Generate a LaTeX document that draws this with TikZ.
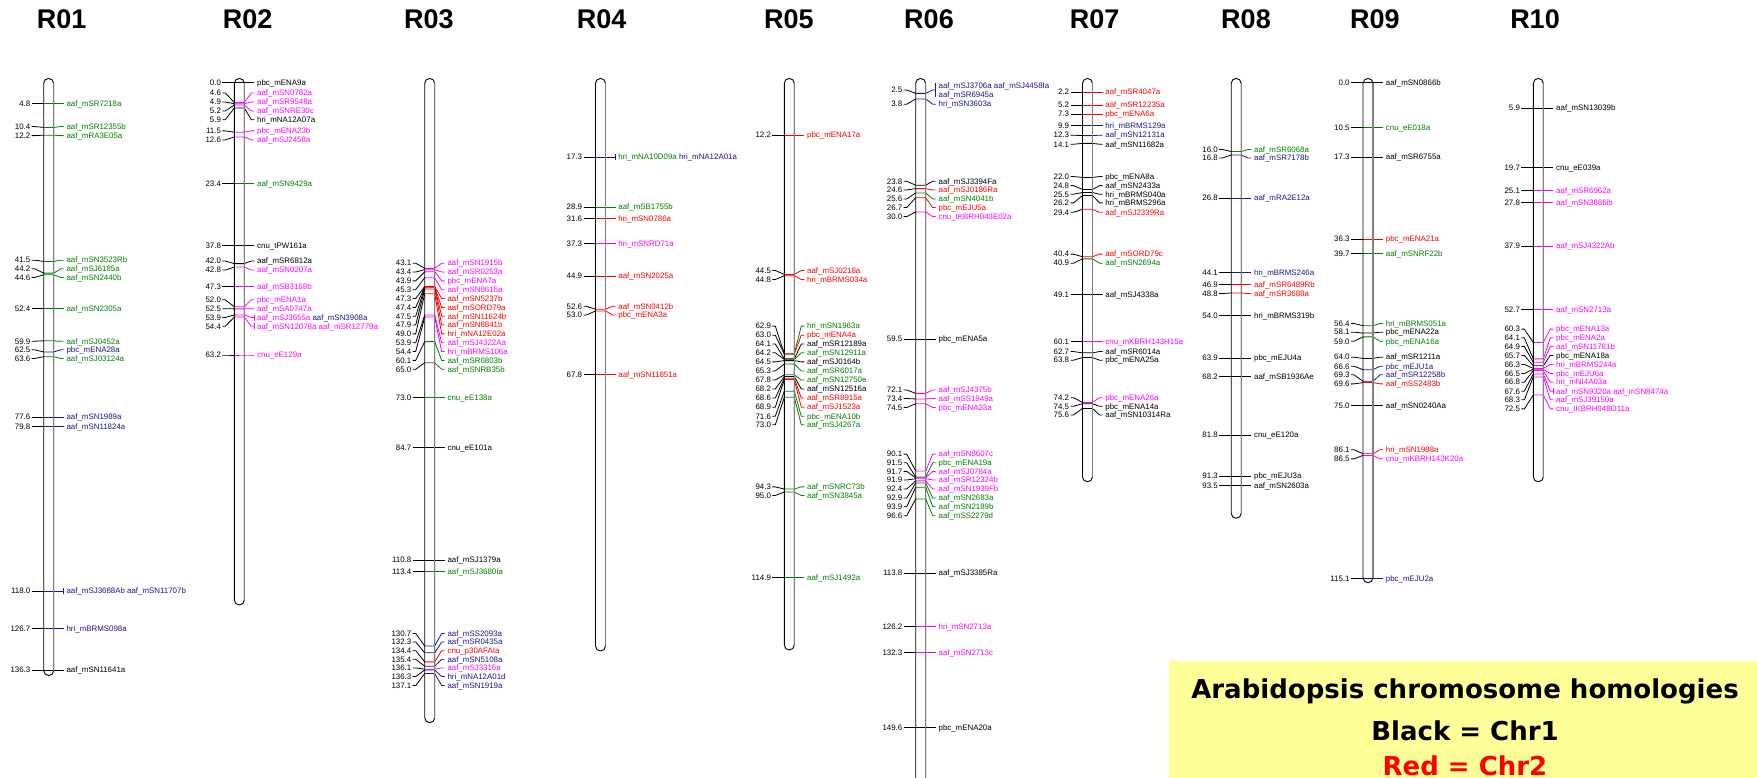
\documentclass[tikz,border=0pt]{standalone}
\usepackage{fontspec}
\setmainfont{Liberation Sans}
\newfontfamily\boxfont{DejaVu Sans}
\definecolor{mgreen}{RGB}{0,128,0}
\definecolor{mblue}{RGB}{25,25,140}
\definecolor{mred}{RGB}{255,0,0}
\definecolor{mmag}{RGB}{255,0,255}
\definecolor{boxyellow}{RGB}{255,255,153}
% marker: position, label position, colour, name
\newcommand{\mrk}[4]{%
\pgfmathsetmacro\yt{82.6+4.31*#1}%
\pgfmathsetmacro\yl{82.6+4.31*#2}%
\draw (\chx-17,\yl)--(\chx-14,\yl)--(\chx-5,\yt);
\draw[#3] (\chx-5,\yt)--(\chx+5,\yt)--(\chx+12,\yl)--(\chx+15,\yl);
\node[num] at (\chx-18,\yl) {#1};
\node[lab,#3] at (\chx+17.5,\yl) {#4};}
\newcommand{\mrkb}[4]{\mrk{#1}{#2}{#3}{#4}\draw[#3] (\chx+15,\yl-3)--(\chx+15,\yl+3);}
% chromosome: bottom, title x, title
\newcommand{\chrom}[3]{%
\draw[line width=.9pt,rounded corners=5pt] (\chx-5,78.4) rectangle (\chx+5,#1);
\draw[gray,line width=1.3pt] (\chx+5,83.4)--(\chx+5,#1-5);
\node[ttl] at (#2,19) {#3};}
\begin{document}
\begin{tikzpicture}[x=1pt,y=-1pt,line join=round,line width=.8pt,
  num/.style={anchor=east,inner sep=0pt,text height=5.6pt,text depth=0pt,font=\fontsize{7.9}{9}\selectfont},
  lab/.style={anchor=west,inner sep=0pt,text height=5.6pt,text depth=0pt,font=\fontsize{7.9}{9}\selectfont},
  ttl/.style={font=\bfseries\fontsize{27}{30}\selectfont},
  boxtxt/.style={font=\boxfont\bfseries\fontsize{26}{30}\selectfont}]
\clip (0,0) rectangle (1757,777);
\fill[white] (0,0) rectangle (1757,777);
% R01
\def\chx{48.7}
\mrk{4.8}{4.8}{mgreen}{aaf\_mSR7218a}
\mrk{10.4}{10.2}{mgreen}{aaf\_mSR12355b}
\mrk{12.2}{12.3}{mgreen}{aaf\_mRA3E05a}
\mrk{41.5}{41.2}{mgreen}{aaf\_mSN3523Rb}
\mrk{44.2}{43.2}{mgreen}{aaf\_mSJ6185a}
\mrk{44.6}{45.2}{mgreen}{aaf\_mSN2440b}
\mrk{52.4}{52.4}{mgreen}{aaf\_mSN2305a}
\mrk{59.9}{60.0}{mgreen}{aaf\_mSJ0452a}
\mrk{62.5}{62.0}{mblue}{pbc\_mENA28a}
\mrk{63.6}{64.0}{mgreen}{aaf\_mSJ03124a}
\mrk{77.6}{77.6}{mblue}{aaf\_mSN1989a}
\mrk{79.8}{79.8}{mblue}{aaf\_mSN11824a}
\mrkb{118.0}{118.0}{mblue}{aaf\_mSJ3688Ab aaf\_mSN11707b}
\mrk{126.7}{126.7}{mblue}{hri\_mBRMS098a}
\mrk{136.3}{136.3}{black}{aaf\_mSN11641a}
\chrom{675.6}{61.6}{R01}
% R02
\def\chx{239.3}
\mrk{0.0}{0.0}{black}{pbc\_mENA9a}
\mrk{4.6}{2.4}{mmag}{aaf\_mSN0782a}
\mrk{4.9}{4.5}{mmag}{aaf\_mSR9548a}
\mrk{5.2}{6.6}{mmag}{aaf\_mSNRE30c}
\mrk{5.9}{8.6}{black}{hri\_mNA12A07a}
\mrk{11.5}{11.2}{mmag}{pbc\_mENA23b}
\mrk{12.6}{13.3}{mmag}{aaf\_mSJ2458a}
\mrk{23.4}{23.4}{mgreen}{aaf\_mSN9429a}
\mrk{37.8}{37.8}{black}{cnu\_tPW161a}
\mrk{42.0}{41.4}{black}{aaf\_mSR6812a}
\mrk{42.8}{43.5}{mmag}{aaf\_mSN0207a}
\mrk{47.3}{47.3}{mmag}{aaf\_mSB3168b}
\mrk{52.0}{50.4}{mmag}{pbc\_mENA1a}
\mrk{52.5}{52.45}{mmag}{aaf\_mSA0747a}
\mrkb{53.9}{54.5}{mmag}{aaf\_mSJ3655a \textcolor{mblue}{aaf\_mSN3908a}}
\mrkb{54.4}{56.55}{mmag}{aaf\_mSN12078a aaf\_mSR12779a}
\mrk{63.2}{63.2}{mmag}{cnu\_eE129a}
\chrom{605}{247.6}{R02}
% R03
\def\chx{429.7}
\mrk{43.1}{41.9}{mmag}{aaf\_mSN1915b}
\mrk{43.4}{43.95}{mmag}{aaf\_mSR0253a}
\mrk{43.9}{46.0}{mmag}{pbc\_mENA7a}
\mrk{45.3}{48.05}{mmag}{aaf\_mSN8615a}
\mrk{47.3}{50.1}{mred}{aaf\_mSN5237b}
\mrk{47.4}{52.15}{mred}{aaf\_mSORD79a}
\mrk{47.5}{54.2}{mred}{aaf\_mSN11624b}
\mrk{47.9}{56.25}{mred}{aaf\_mSN8841b}
\mrk{49.0}{58.3}{mred}{hri\_mNA12E02a}
\mrk{53.9}{60.35}{mmag}{aaf\_mSJ4322Aa}
\mrk{54.4}{62.4}{mmag}{hri\_mBRMS106a}
\mrk{60.1}{64.45}{mgreen}{aaf\_mSR6803b}
\mrk{65.0}{66.5}{mgreen}{aaf\_mSNRB35b}
\mrk{73.0}{73.0}{mgreen}{cnu\_eE138a}
\mrk{84.7}{84.7}{black}{cnu\_eE101a}
\mrk{110.8}{110.8}{black}{aaf\_mSJ1379a}
\mrk{113.4}{113.4}{mgreen}{aaf\_mSJ3680Ia}
\mrk{130.7}{127.8}{mblue}{aaf\_mSS2093a}
\mrk{132.3}{129.8}{mblue}{aaf\_mSR0435a}
\mrk{134.4}{131.8}{mred}{cnu\_p30AFAIa}
\mrk{135.4}{133.8}{mblue}{aaf\_mSN5108a}
\mrk{136.1}{135.8}{mmag}{aaf\_mSJ3316a}
\mrk{136.3}{137.8}{mblue}{hri\_mNA12A01d}
\mrk{137.1}{139.9}{mblue}{aaf\_mSN1919a}
\chrom{722.7}{429}{R03}
% R04
\def\chx{600.5}
\mrkb{17.3}{17.3}{mblue}{\textcolor{mgreen}{hri\_mNA10D09a} hri\_mNA12A01a}
\mrk{28.9}{28.9}{mgreen}{aaf\_mSB1755b}
\mrk{31.6}{31.6}{mred}{hri\_mSN0786a}
\mrk{37.3}{37.3}{mmag}{hri\_mSNRD71a}
\mrk{44.9}{44.9}{mred}{aaf\_mSN2025a}
\mrk{52.6}{51.9}{mred}{aaf\_mSN0412b}
\mrk{53.0}{53.9}{mred}{pbc\_mENA3a}
\mrk{67.8}{67.8}{mred}{aaf\_mSN11851a}
\chrom{651}{601.7}{R04}
% R05
\def\chx{789.3}
\mrk{12.2}{12.2}{mred}{pbc\_mENA17a}
\mrk{44.5}{43.6}{mred}{aaf\_mSJ0218a}
\mrk{44.8}{45.7}{mred}{hri\_mBRMS034a}
\mrk{62.9}{56.5}{mgreen}{hri\_mSN1963a}
\mrk{63.0}{58.6}{mred}{pbc\_mENA4a}
\mrk{64.1}{60.65}{black}{aaf\_mSR12189a}
\mrk{64.2}{62.7}{mgreen}{aaf\_mSN12911a}
\mrk{64.5}{64.8}{black}{aaf\_mSJ0164b}
\mrk{65.3}{66.9}{mgreen}{aaf\_mSR6017a}
\mrk{67.8}{69.0}{mgreen}{aaf\_mSN12750e}
\mrk{68.2}{71.1}{black}{aaf\_mSN12516a}
\mrk{68.6}{73.2}{mred}{aaf\_mSR8915a}
\mrk{68.9}{75.3}{mred}{aaf\_mSJ1523a}
\mrk{71.6}{77.4}{mgreen}{pbc\_mENA10b}
\mrk{73.0}{79.4}{mgreen}{aaf\_mSJ4267a}
\mrk{94.3}{93.8}{mgreen}{aaf\_mSNRC73b}
\mrk{95.0}{95.8}{mgreen}{aaf\_mSN3845a}
\mrk{114.9}{114.9}{mgreen}{aaf\_mSJ1492a}
\chrom{650}{788.8}{R05}
% R06
\def\chx{920.7}
\mrk{2.5}{1.7}{mblue}{}
\node[lab,mblue] at (\chx+17.5,86) {aaf\_mSJ3706a aaf\_mSJ4458Ia};
\node[lab,mblue] at (\chx+17.5,95) {aaf\_mSR6945a};
\draw[mblue] (\chx+15,82.7)--(\chx+15,97.3);
\mrk{3.8}{5.0}{mblue}{hri\_mSN3603a}
\mrk{23.8}{22.9}{black}{aaf\_mSJ3394Fa}
\mrk{24.6}{24.9}{mred}{aaf\_mSJ0186Ra}
\mrk{25.6}{27.0}{mgreen}{aaf\_mSN4041b}
\mrk{26.7}{29.0}{mred}{pbc\_mEJU5a}
\mrk{30.0}{31.1}{mmag}{cnu\_tKBRH043E02a}
\mrk{59.5}{59.5}{black}{pbc\_mENA5a}
\mrk{72.1}{71.3}{mmag}{aaf\_mSJ4375b}
\mrk{73.4}{73.3}{mmag}{aaf\_mSS1949a}
\mrk{74.5}{75.4}{mmag}{pbc\_mENA23a}
\mrk{90.1}{86.2}{mmag}{aaf\_mSN8607c}
\mrk{91.5}{88.2}{mgreen}{pbc\_mENA19a}
\mrk{91.7}{90.2}{mmag}{aaf\_mSJ0784a}
\mrk{91.9}{92.2}{mmag}{aaf\_mSR12324b}
\mrk{92.4}{94.3}{mmag}{aaf\_mSN1939Fb}
\mrk{92.9}{96.4}{mgreen}{aaf\_mSN2683a}
\mrk{93.9}{98.4}{mgreen}{aaf\_mSN2189b}
\mrk{96.6}{100.5}{mgreen}{aaf\_mSS2279d}
\mrk{113.8}{113.8}{black}{aaf\_mSJ3385Ra}
\mrk{126.2}{126.2}{mmag}{hri\_mSN2713a}
\mrk{132.3}{132.3}{mmag}{aaf\_mSN2713c}
\mrk{149.6}{149.6}{black}{pbc\_mENA20a}
\chrom{820}{929}{R06}
% R07
\def\chx{1087.5}
\mrk{2.2}{2.2}{mred}{aaf\_mSR4047a}
\mrk{5.2}{5.2}{mred}{aaf\_mSR12235a}
\mrk{7.3}{7.3}{mred}{pbc\_mENA6a}
\mrk{9.9}{9.9}{mblue}{hri\_mBRMS129a}
\mrk{12.3}{12.2}{mblue}{aaf\_mSN12131a}
\mrk{14.1}{14.3}{black}{aaf\_mSN11682a}
\mrk{22.0}{21.8}{black}{pbc\_mENA8a}
\mrk{24.8}{23.9}{black}{aaf\_mSN2433a}
\mrk{25.5}{25.9}{black}{hri\_mBRMS040a}
\mrk{26.2}{27.9}{black}{hri\_mBRMS296a}
\mrk{29.4}{30.1}{mred}{aaf\_mSJ2339Ra}
\mrk{40.4}{39.8}{mred}{aaf\_mSORD79c}
\mrk{40.9}{41.9}{mgreen}{aaf\_mSN2694a}
\mrk{49.1}{49.1}{black}{aaf\_mSJ4338a}
\mrk{60.1}{60.1}{mmag}{cnu\_mKBRH143H15a}
\mrk{62.7}{62.4}{black}{aaf\_mSR6014a}
\mrk{63.8}{64.4}{black}{pbc\_mENA25a}
\mrk{74.2}{73.1}{mmag}{pbc\_mENA26a}
\mrk{74.5}{75.1}{black}{pbc\_mENA14a}
\mrk{75.6}{77.1}{black}{aaf\_mSN10314Ra}
\chrom{481.8}{1094.7}{R07}
% R08
\def\chx{1236.2}
\mrk{16.0}{15.5}{mgreen}{aaf\_mSR6068a}
\mrk{16.8}{17.5}{mblue}{aaf\_mSR7178b}
\mrk{26.8}{26.8}{mblue}{aaf\_mRA2E12a}
\mrk{44.1}{44.1}{mblue}{hri\_mBRMS246a}
\mrk{46.9}{46.9}{mred}{aaf\_mSR6489Rb}
\mrk{48.8}{48.95}{mred}{aaf\_mSR3688a}
\mrk{54.0}{54.0}{black}{hri\_mBRMS319b}
\mrk{63.9}{63.9}{black}{pbc\_mEJU4a}
\mrk{68.2}{68.2}{black}{aaf\_mSB1936Ae}
\mrk{81.8}{81.8}{black}{cnu\_eE120a}
\mrk{91.3}{91.3}{black}{pbc\_mEJU3a}
\mrk{93.5}{93.5}{black}{aaf\_mSN2603a}
\chrom{518.3}{1246}{R08}
% R09
\def\chx{1368}
\mrk{0.0}{0.0}{black}{aaf\_mSN0866b}
\mrk{10.5}{10.5}{mgreen}{cnu\_eE018a}
\mrk{17.3}{17.3}{black}{aaf\_mSR6755a}
\mrk{36.3}{36.3}{mred}{pbc\_mENA21a}
\mrk{39.7}{39.7}{mgreen}{aaf\_mSNRF22b}
\mrk{56.4}{55.9}{mgreen}{hri\_mBRMS051a}
\mrk{58.1}{57.9}{black}{pbc\_mENA22a}
\mrk{59.0}{60.0}{mgreen}{pbc\_mENA16a}
\mrk{64.0}{63.7}{black}{aaf\_mSR1211a}
\mrk{66.6}{65.8}{mblue}{pbc\_mEJU1a}
\mrk{69.3}{67.8}{mblue}{aaf\_mSR12258b}
\mrk{69.6}{69.9}{mred}{aaf\_mSS2483b}
\mrk{75.0}{75.0}{black}{aaf\_mSN0240Aa}
\mrk{86.1}{85.2}{mred}{hri\_mSN1988a}
\mrk{86.5}{87.3}{mmag}{cnu\_mKBRH143K20a}
\mrk{115.1}{115.1}{mblue}{pbc\_mEJU2a}
\chrom{582.7}{1374.8}{R09}
% R10
\def\chx{1538.3}
\mrk{5.9}{5.9}{black}{aaf\_mSN13039b}
\mrk{19.7}{19.7}{black}{cnu\_eE039a}
\mrk{25.1}{25.1}{mmag}{aaf\_mSR6962a}
\mrk{27.8}{27.8}{mmag}{aaf\_mSN3886ib}
\mrk{37.9}{37.9}{mmag}{aaf\_mSJ4322Ab}
\mrk{52.7}{52.7}{mmag}{aaf\_mSN2713a}
\mrk{60.3}{57.2}{mmag}{pbc\_mENA13a}
\mrk{64.1}{59.2}{mmag}{pbc\_mENA2a}
\mrk{64.9}{61.2}{mmag}{aaf\_mSN11781b}
\mrk{65.7}{63.3}{black}{pbc\_mENA18a}
\mrk{66.3}{65.4}{mmag}{hri\_mBRMS244a}
\mrk{66.5}{67.5}{mmag}{pbc\_mEJU6a}
\mrk{66.8}{69.5}{mmag}{hri\_mNI4A03a}
\mrkb{67.6}{71.6}{mmag}{aaf\_mSN9320a aaf\_mSN8474a}
\mrk{68.3}{73.6}{mmag}{aaf\_mSJ39150a}
\mrk{72.5}{75.7}{mmag}{cnu\_tKBRH048O11a}
\chrom{481.8}{1535}{R10}
% key
\fill[boxyellow] (1169,661) rectangle (1757,790);
\node[boxtxt] (hd) at (1465,691.5) {Arabidopsis chromosome homologies};
\node[boxtxt] (k1) at (1465,730.5) {Black = Chr1};
\node[boxtxt,mred] (k2) at (1465,765.3) {Red = Chr2};
\end{tikzpicture}
\end{document}
